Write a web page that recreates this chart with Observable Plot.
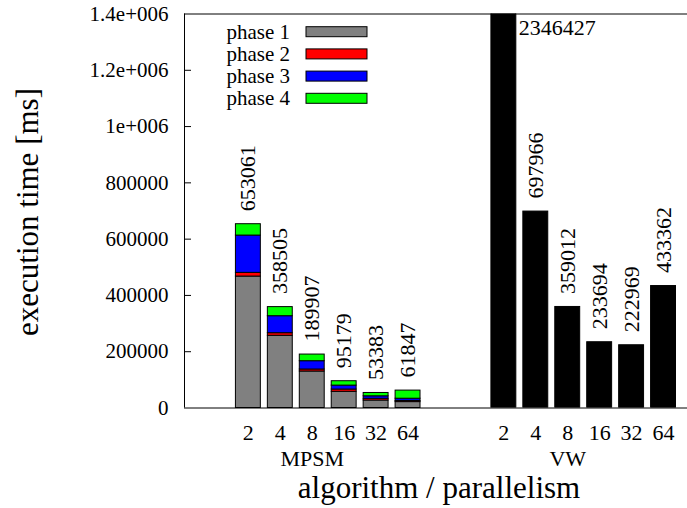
<!DOCTYPE html>
<html><head><meta charset="utf-8">
<script src="https://cdn.jsdelivr.net/npm/d3@7"></script>
<script src="https://cdn.jsdelivr.net/npm/@observablehq/plot@0.6"></script>
<style>
body{margin:0;background:#fff}
#chart{width:687px;height:508px}
</style>
</head><body><div id="chart"></div>
<script>
// ---- data ----
const algorithms = ["MPSM", "VW"];
const parallelism = ["2", "4", "8", "16", "32", "64"];
const phases = ["phase 1", "phase 2", "phase 3", "phase 4"];
const phaseColors = ["#808080", "#ff0000", "#0000ff", "#00ff00"];
const mpsmPhase1 = [467000, 256600, 129700, 57600, 26600, 21000];
const mpsmPhase2 = [13200, 9200, 7100, 8000, 6000, 4000];
const mpsmPhase3 = [132500, 60400, 29500, 14000, 9000, 8000];
const mpsmPhase4 = [40361, 32305, 23607, 15579, 11783, 28847];
const mpsmTotal = [653061, 358505, 189907, 95179, 53383, 61847];
const vwTotal = [2346427, 697966, 359012, 233694, 222969, 433362];
const yTicks = [0, 200000, 400000, 600000, 800000, 1000000, 1200000, 1400000];
const yTickLabels = ["0", "200000", "400000", "600000", "800000", "1e+006", "1.2e+006", "1.4e+006"];
const yLabel = "execution time [ms]";
const xLabel = "algorithm / parallelism";

// ---- layout helpers ----
const groupStride = 8;     // slots per histogram group (6 bars + gap)
const HW = 0.39;           // half bar width in slot units
const yMax = yTicks[yTicks.length - 1];
const font = "Liberation Serif";

const phaseArrays = [mpsmPhase1, mpsmPhase2, mpsmPhase3, mpsmPhase4];
const stacked = [];
parallelism.forEach((p, j) => {
  let base = 0;
  phaseArrays.forEach((arr, k) => {
    stacked.push({slot: j, phase: phases[k], y1: base, y2: base + arr[j]});
    base += arr[j];
  });
});
const vwBars = vwTotal.map((v, j) => ({slot: groupStride + j, value: v}));
const labels = [
  ...mpsmTotal.map((v, j) => ({slot: j, value: v})),
  ...vwBars
];
const xTickData = [];
algorithms.forEach((a, g) => parallelism.forEach((p, j) => xTickData.push({slot: g * groupStride + j, label: p})));
const groupData = algorithms.map((a, g) => ({slot: g * groupStride + 2, label: a}));

const plot = Plot.plot({
  width: 687, height: 508,
  marginLeft: 184, marginRight: 0, marginTop: 13.5, marginBottom: 100.5,
  style: {fontFamily: font, background: "#fff", color: "#000", overflow: "visible"},
  x: {type: "linear", domain: [-2, 13.75], axis: null},
  y: {domain: [0, yMax], axis: null},
  color: {domain: phases, range: phaseColors},
  marks: [
    Plot.rect(stacked, {x1: d => d.slot - HW, x2: d => d.slot + HW, y1: "y1", y2: "y2", fill: "phase", stroke: "#000", strokeWidth: 1}),
    Plot.rect(vwBars, {x1: d => d.slot - HW, x2: d => d.slot + HW, y1: 0, y2: "value", fill: "#000", stroke: "#000", clip: true}),
    Plot.text(labels.filter(d => d.value <= yMax), {x: "slot", y: "value", text: d => String(d.value), rotate: -90, textAnchor: "start", lineAnchor: "middle", dy: -13, fontSize: 22, fontFamily: font}),
    Plot.text(labels.filter(d => d.value > yMax), {x: "slot", y: () => yMax, text: d => String(d.value), textAnchor: "start", lineAnchor: "bottom", dx: 15, dy: 21, fontSize: 22, fontFamily: font}),
    Plot.ruleY([0, yMax], {stroke: "#000", strokeWidth: 1}),
    Plot.ruleX([-2], {stroke: "#000", strokeWidth: 1}),
    Plot.axisY(yTicks, {tickFormat: d => yTickLabels[yTicks.indexOf(d)], tickSize: 0, tickPadding: 16, fontSize: 21, fontFamily: font, label: null}),
    Plot.axisY(yTicks.slice(1, -1), {tickSize: -7, text: null, label: null}),
    Plot.text(xTickData, {x: "slot", text: "label", frameAnchor: "bottom", lineAnchor: "bottom", dy: 31.5, fontSize: 22, fontFamily: font}),
    Plot.text(groupData, {x: "slot", text: "label", frameAnchor: "bottom", lineAnchor: "bottom", dy: 58, fontSize: 22, fontFamily: font})
  ]
});

const svg = d3.select(plot);
// axis titles
svg.append("text").attr("x", 439).attr("y", 498).attr("text-anchor", "middle")
  .attr("font-family", font).attr("font-size", 31).attr("fill", "#000").text(xLabel);
svg.append("text").attr("transform", "translate(38,212) rotate(-90)").attr("text-anchor", "middle")
  .attr("font-family", font).attr("font-size", 31).attr("fill", "#000").text(yLabel);

// legend (inside plot area, top-left)
const lg = svg.append("g").attr("font-family", font).attr("font-size", 21);
phases.forEach((p, k) => {
  const cy = 31.7 + k * 22.2;
  lg.append("text").attr("x", 290).attr("y", cy + 7).attr("text-anchor", "end").attr("fill", "#000").text(p);
  lg.append("rect").attr("x", 306).attr("y", cy - 5).attr("width", 61).attr("height", 10)
    .attr("fill", phaseColors[k]).attr("stroke", "#000").attr("stroke-width", 1);
});

document.getElementById("chart").appendChild(plot);
</script>
</body></html>
